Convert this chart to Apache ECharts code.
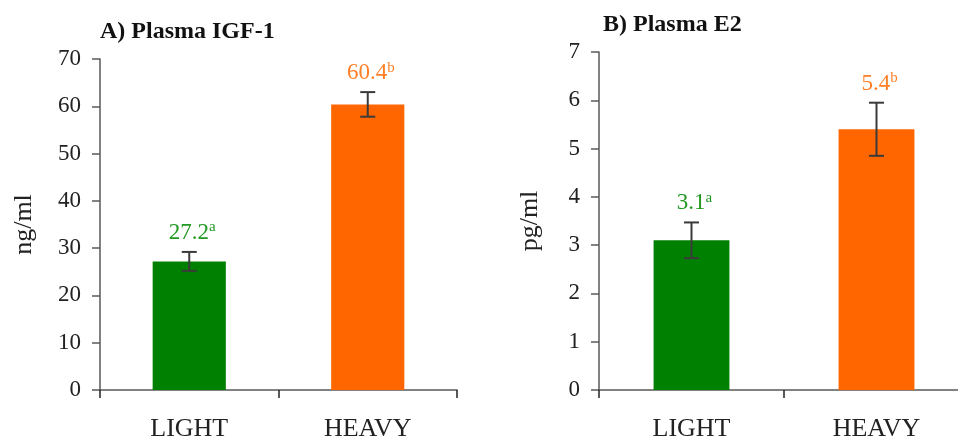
<!DOCTYPE html>
<html>
<head>
<meta charset="utf-8">
<script src="https://cdn.jsdelivr.net/npm/echarts@6/dist/echarts.min.js"></script>
<style>
  html, body { margin: 0; padding: 0; background: #fff; }
  #main { width: 958px; height: 441px; }
</style>
</head>
<body>
<div id="main"></div>
<script>
// data
var categories = ['LIGHT', 'HEAVY'];
var barColors = ['#008000', '#FF6600'];
var labelColors = ['#229922', '#FF7F27'];

var igfMean = [27.2, 60.4];
var igfErr = [2.0, 2.6];
var igfLetters = ['a', 'b'];

var e2Mean = [3.1, 5.4];
var e2Err = [0.37, 0.55];
var e2Letters = ['a', 'b'];

var serif = 'Liberation Serif';
var axisColor = '#595959';

function barData(means) {
  return means.map(function (v, i) {
    return { value: v, itemStyle: { color: barColors[i] } };
  });
}

function errData(means, errs, letters) {
  return means.map(function (v, i) {
    return [i, v + errs[i], v - errs[i], v, letters[i]];
  });
}

function renderErr(params, api) {
  var i = api.value(0);
  var top = api.coord([i, api.value(1)]);
  var bot = api.coord([i, api.value(2)]);
  var half = 7.5;
  var st = { stroke: '#3a3a3a', lineWidth: 2 };
  var letter = params.dataIndex === 0 ? 'a' : 'b';
  var m = api.value(3);
  var col = labelColors[params.dataIndex];
  return {
    type: 'group',
    children: [
      { type: 'line', shape: { x1: top[0], y1: top[1], x2: bot[0], y2: bot[1] }, style: st },
      { type: 'line', shape: { x1: top[0] - half, y1: top[1], x2: top[0] + half, y2: top[1] }, style: st },
      { type: 'line', shape: { x1: bot[0] - half, y1: bot[1], x2: bot[0] + half, y2: bot[1] }, style: st },
      {
        type: 'text',
        x: top[0] + 3,
        y: top[1] - 6,
        style: {
          text: '{v|' + m.toFixed(1) + '}{s|' + letter + '}',
          align: 'center',
          verticalAlign: 'bottom',
          fill: col,
          rich: {
            v: { fontFamily: serif, fontSize: 23, lineHeight: 26, fill: col },
            s: { fontFamily: serif, fontSize: 15, lineHeight: 26, verticalAlign: 'top', padding: [0, 0, 8, 0], fill: col }
          }
        }
      }
    ]
  };
}

function xAxis(gridIndex) {
  return {
    type: 'category',
    gridIndex: gridIndex,
    data: categories,
    axisLine: { lineStyle: { color: axisColor, width: 1.5 } },
    axisTick: { show: true, length: 8, lineStyle: { color: '#222', width: 1.5 } },
    axisLabel: { color: '#222', fontFamily: serif, fontSize: 26, margin: 26 }
  };
}

function yAxis(gridIndex, max, interval, name, gap) {
  return {
    type: 'value',
    gridIndex: gridIndex,
    min: 0,
    max: max,
    interval: interval,
    name: name,
    nameLocation: 'middle',
    nameGap: gap,
    nameTextStyle: { color: '#222', fontFamily: serif, fontSize: 26 },
    axisLine: { show: true, lineStyle: { color: axisColor, width: 1.5 } },
    axisTick: { show: true, length: 8, lineStyle: { color: axisColor, width: 1.5 } },
    axisLabel: { color: '#222', fontFamily: serif, fontSize: 23, margin: 19 },
    splitLine: { show: false }
  };
}

var myChart = echarts.init(document.getElementById('main'));

var option = {
  backgroundColor: '#fff',
  animation: false,
  title: [
    { text: 'A) Plasma IGF-1', left: 100, top: 20, padding: 0, textStyle: { fontFamily: serif, fontSize: 24, fontWeight: 'bold', color: '#111' } },
    { text: 'B) Plasma E2', left: 603, top: 13, padding: 0, textStyle: { fontFamily: serif, fontSize: 24, fontWeight: 'bold', color: '#111' } }
  ],
  grid: [
    { left: 100, top: 59, right: 501, bottom: 51, outerBoundsMode: 'none' },
    { left: 599, top: 52, right: -11, bottom: 51, outerBoundsMode: 'none' }
  ],
  xAxis: [xAxis(0), xAxis(1)],
  yAxis: [
    yAxis(0, 70, 10, 'ng/ml', 63),
    yAxis(1, 7, 1, 'pg/ml', 56)
  ],
  series: [
    { type: 'bar', xAxisIndex: 0, yAxisIndex: 0, barWidth: '41%', data: barData(igfMean) },
    { type: 'bar', xAxisIndex: 1, yAxisIndex: 1, barWidth: '41%', data: barData(e2Mean) },
    { type: 'custom', xAxisIndex: 0, yAxisIndex: 0, renderItem: renderErr, data: errData(igfMean, igfErr, igfLetters), z: 5 },
    { type: 'custom', xAxisIndex: 1, yAxisIndex: 1, renderItem: renderErr, data: errData(e2Mean, e2Err, e2Letters), z: 5 }
  ]
};

myChart.setOption(option);
</script>
</body>
</html>
